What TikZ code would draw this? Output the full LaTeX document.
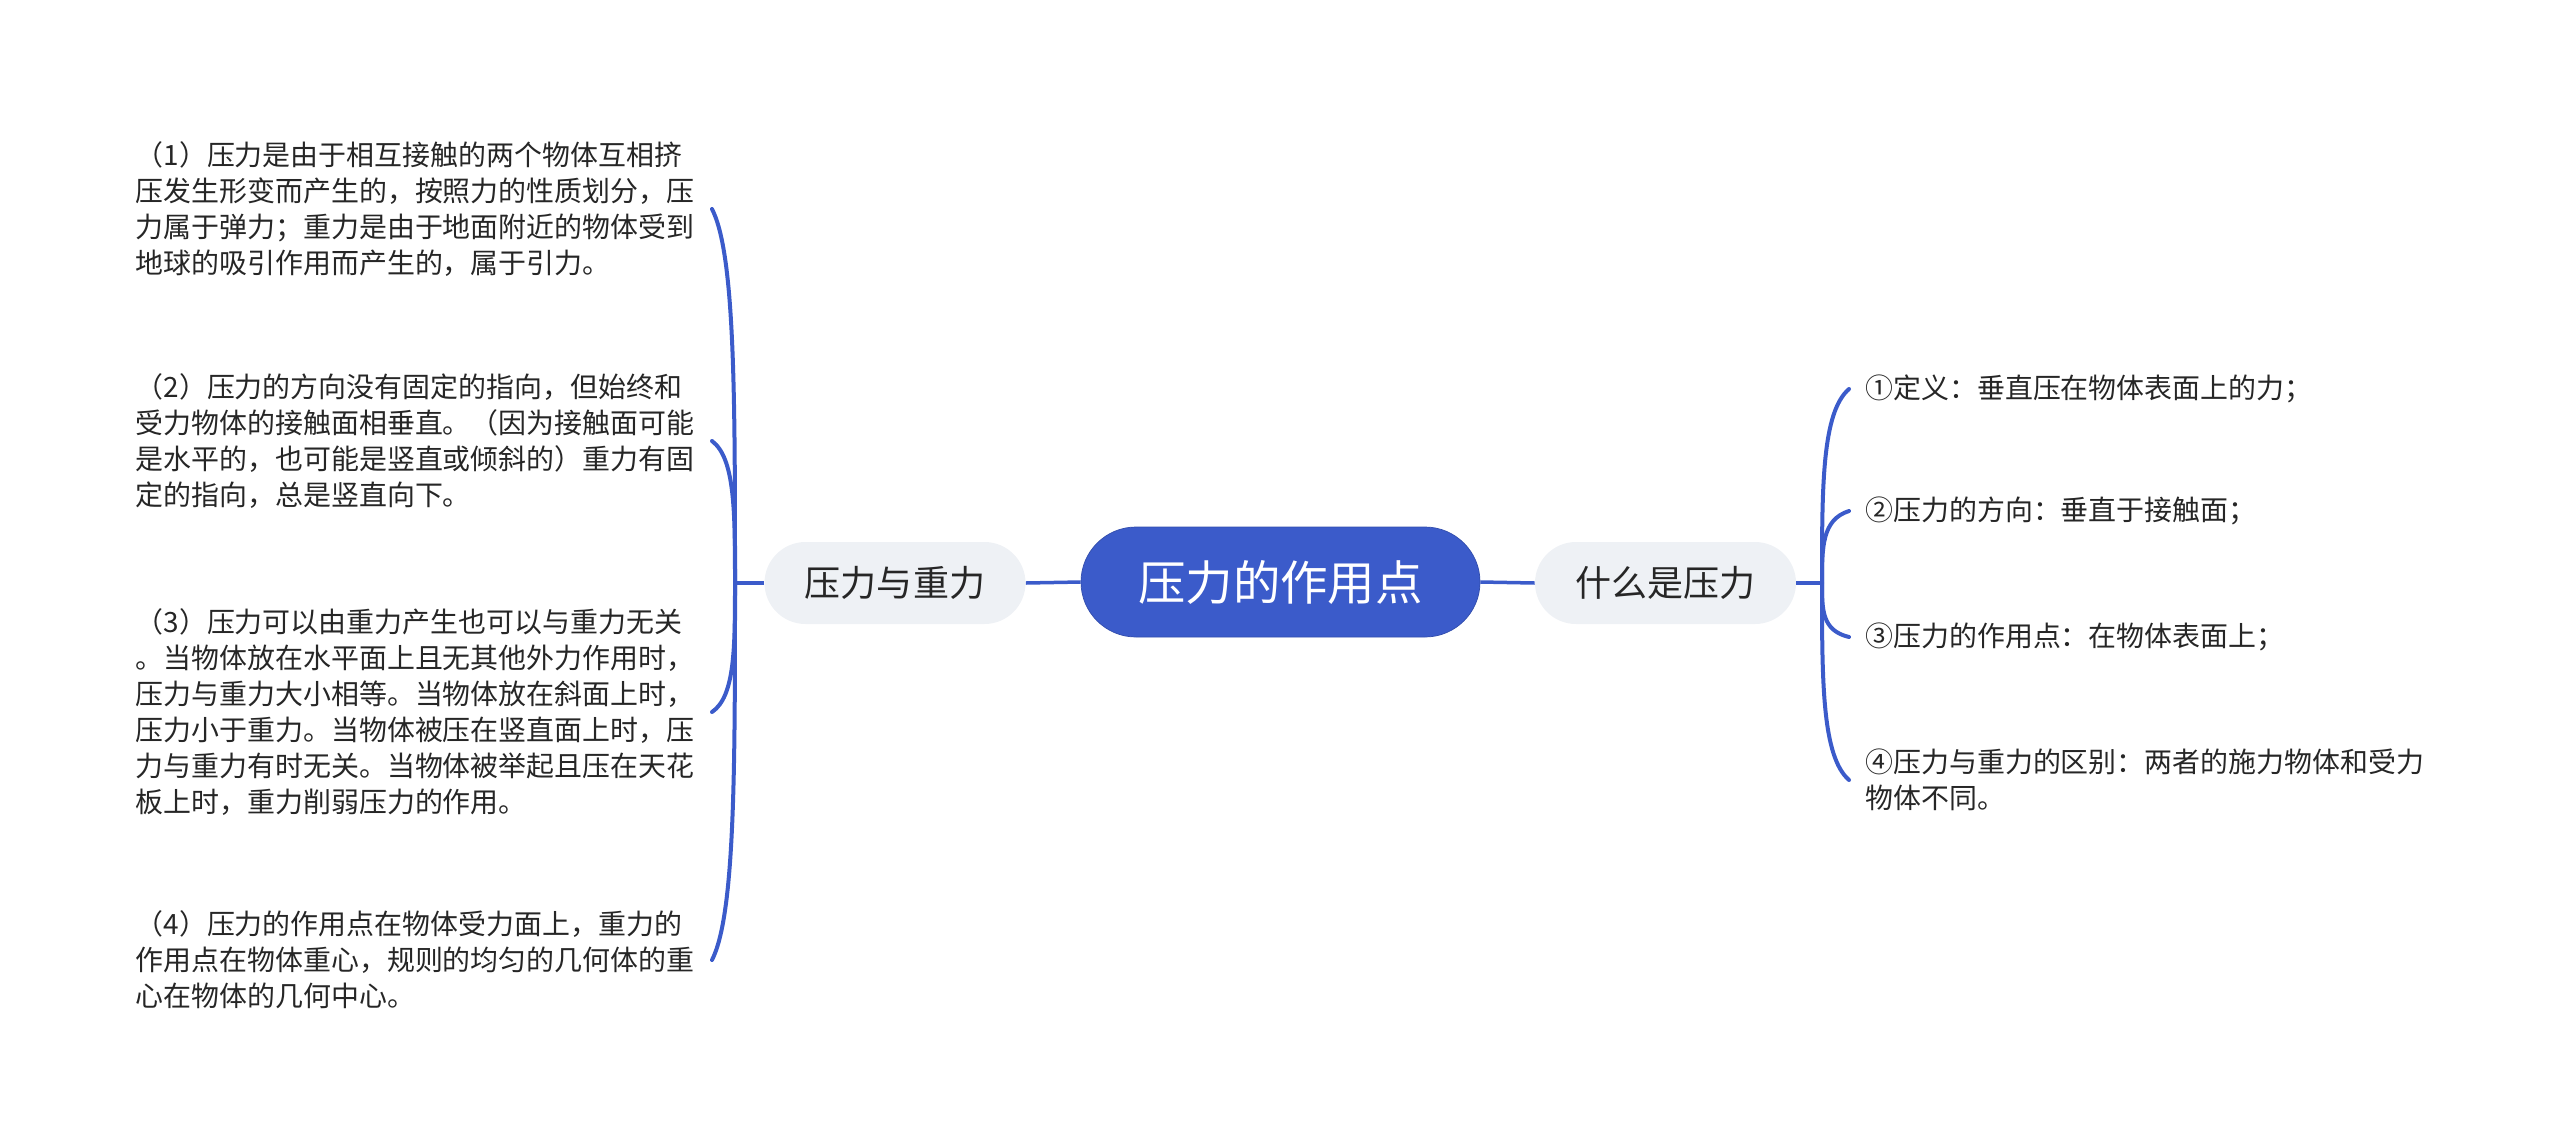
\documentclass[tikz,border=0pt]{standalone}
\usepackage{fontspec}
\setmainfont{Noto Sans CJK SC}
\usetikzlibrary{calc}
\definecolor{mapblue}{HTML}{3B5BCA}
\definecolor{topicgray}{HTML}{EEF1F5}
\definecolor{leaftext}{HTML}{262626}

\begin{document}
\begin{tikzpicture}[x=0.2mm, y=-0.2mm,
		central/.style={rectangle, rounded corners=11mm, minimum width=79.8mm, minimum height=22mm, inner sep=0pt, fill=mapblue, draw=mapblue!85!black, line width=0.4pt, text=white, font=\fontsize{27pt}{32pt}\selectfont},
		topic/.style={rectangle, rounded corners=8.2mm, minimum width=52.2mm, minimum height=16.4mm, inner sep=0pt, fill=topicgray, text=leaftext, font=\fontsize{20.5pt}{24pt}\selectfont},
		leaf/.style={text width=113.2mm, align=left, inner xsep=2mm, inner ysep=0pt, text=leaftext, font=\fontsize{15.9pt}{20.5pt}\selectfont},
		link/.style={draw=mapblue, line width=0.7mm},
		branch/.style={draw=mapblue, line width=0.8mm, line cap=round}]
		
		\useasboundingbox (0, 0) rectangle (2560, 1147);
		
		\node[central] (root) at (1280.5, 582) {压力的作用点};
		\node[topic] (gravity) at (895, 583) {压力与重力};
		\node[topic] (what) at (1665.5, 583) {什么是压力};
		
		\draw[link] (gravity.east) -- (root.west);
		\draw[link] (root.east) -- (what.west);
		
		% left side
		\coordinate (jl) at (735, 583);
		\draw[link] (gravity.west) -- (jl);
		
		\node[leaf, anchor=east] (p1) at (712, 209) {（1）压力是由于相互接触的两个物体互相挤\\压发生形变而产生的，按照力的性质划分，压\\力属于弹力；重力是由于地面附近的物体受到\\地球的吸引作用而产生的，属于引力。};
		\node[leaf, anchor=east] (p2) at (712, 441) {（2）压力的方向没有固定的指向，但始终和\\受力物体的接触面相垂直。（因为接触面可能\\是水平的，也可能是竖直或倾斜的）重力有固\\定的指向，总是竖直向下。};
		\node[leaf, anchor=east] (p3) at (712, 712) {（3）压力可以由重力产生也可以与重力无关\\。当物体放在水平面上且无其他外力作用时，\\压力与重力大小相等。当物体放在斜面上时，\\压力小于重力。当物体被压在竖直面上时，压\\力与重力有时无关。当物体被举起且压在天花\\板上时，重力削弱压力的作用。};
		\node[leaf, anchor=east] (p4) at (712, 960) {（4）压力的作用点在物体受力面上，重力的\\作用点在物体重心，规则的均匀的几何体的重\\心在物体的几何中心。};
		
		\draw[branch] (jl) .. controls ($(jl |- p1.east)!0.5!(jl)$) and ($(jl |- p1.east)!0.12!(jl)$) .. (p1.east);
		\draw[branch] (jl) .. controls ($(jl |- p2.east)!0.5!(jl)$) and ($(jl |- p2.east)!0.12!(jl)$) .. (p2.east);
		\draw[branch] (jl) .. controls ($(jl |- p3.east)!0.5!(jl)$) and ($(jl |- p3.east)!0.12!(jl)$) .. (p3.east);
		\draw[branch] (jl) .. controls ($(jl |- p4.east)!0.5!(jl)$) and ($(jl |- p4.east)!0.12!(jl)$) .. (p4.east);
		
		% right side
		\coordinate (jr) at (1822, 583);
		\draw[link] (what.east) -- (jr);
		
		\node[leaf, anchor=west, inner xsep=3.2mm, text width=114mm] (d1) at (1849, 389) {①定义：垂直压在物体表面上的力；};
		\node[leaf, anchor=west, inner xsep=3.2mm, text width=114mm] (d2) at (1849, 511) {②压力的方向：垂直于接触面；};
		\node[leaf, anchor=west, inner xsep=3.2mm, text width=114mm] (d3) at (1849, 637) {③压力的作用点：在物体表面上；};
		\node[leaf, anchor=west, inner xsep=3.2mm, text width=114mm] (d4) at (1849, 780) {④压力与重力的区别：两者的施力物体和受力\\物体不同。};
		
		\draw[branch] (jr) .. controls ($(jr |- d1.west)!0.5!(jr)$) and ($(jr |- d1.west)!0.12!(jr)$) .. (d1.west);
		\draw[branch] (jr) .. controls ($(jr |- d2.west)!0.5!(jr)$) and ($(jr |- d2.west)!0.12!(jr)$) .. (d2.west);
		\draw[branch] (jr) .. controls ($(jr |- d3.west)!0.5!(jr)$) and ($(jr |- d3.west)!0.12!(jr)$) .. (d3.west);
		\draw[branch] (jr) .. controls ($(jr |- d4.west)!0.5!(jr)$) and ($(jr |- d4.west)!0.12!(jr)$) .. (d4.west);
		
	\end{tikzpicture}
\end{document}
